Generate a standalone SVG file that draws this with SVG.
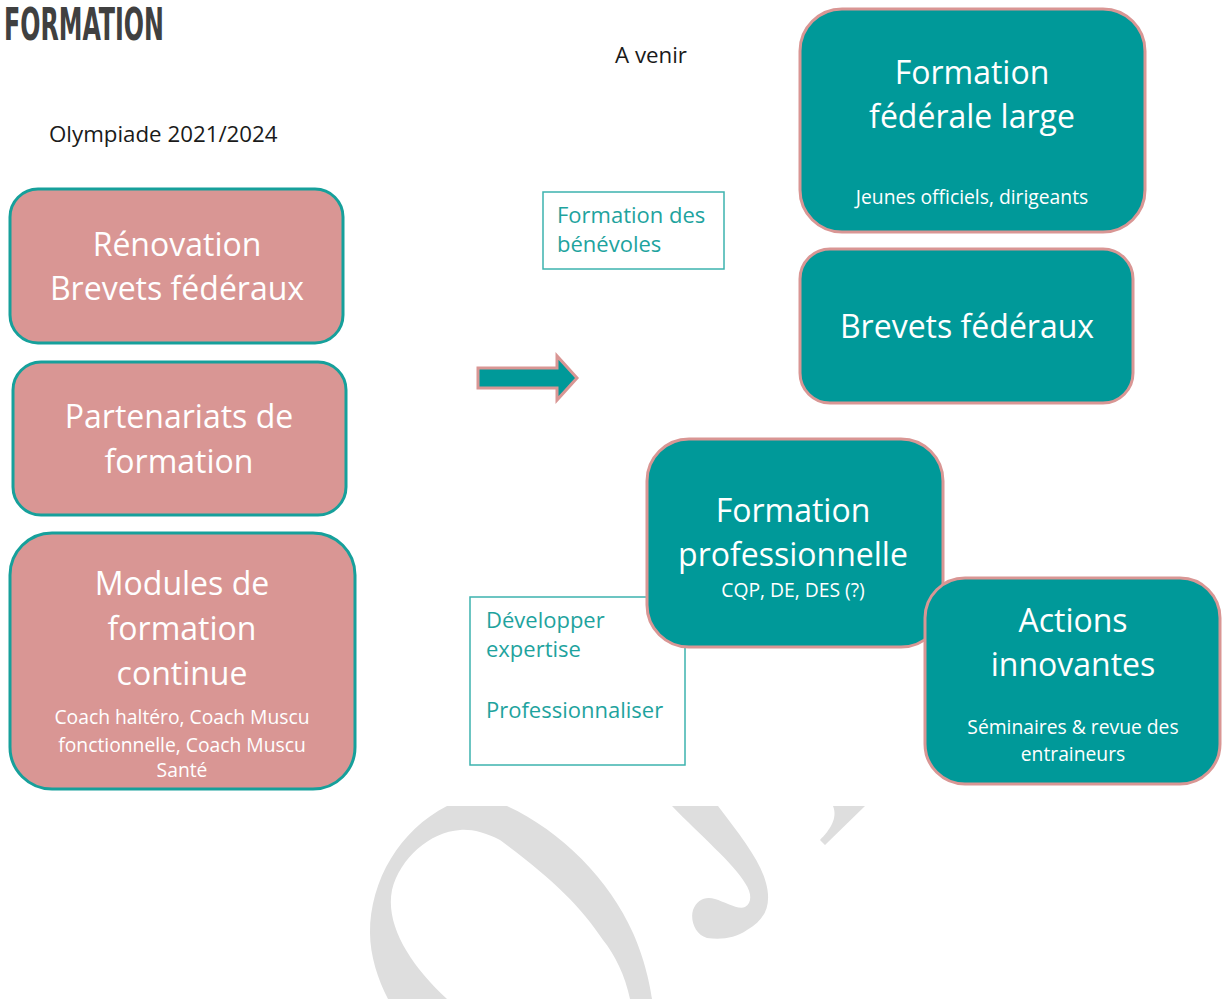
<svg xmlns="http://www.w3.org/2000/svg" width="1222" height="999" viewBox="0 0 1222 999">
<style>
.pinkbox{fill:#D99694;stroke:#16A09B;stroke-width:3}
.tealbox{fill:#009999;stroke:#D99694;stroke-width:3}
.frame{fill:#FFFFFF;stroke:#3DB3AE;stroke-width:1.5}
.t{font-family:"Open Sans",Lato,"Liberation Sans",sans-serif;}
.w{fill:#FFFFFF;text-anchor:middle}
.big{font-size:32px}
.small{font-size:19.3px}
.tl{fill:#1EA39E;font-size:22px}
.dark{fill:#1A1A1A;font-size:22.3px}
.wm{fill:#DEDEDE}
</style>
<g id="watermark">
<path class="wm" d="M447,806 L507,806 C560,830 610,880 633,933 C645,960 650,985 652,999 L630,999 C625,975 615,955 603,940 C580,905 550,877 500,840 C485,832 470,829 460,830 C430,832 400,858 392,890 C385,925 410,965 447,999 L388,999 C378,980 370,955 370,933 C370,880 400,830 447,806 Z"/>
<path class="wm" d="M672,806 L718,806 C740,835 760,860 766,883 C772,905 765,920 747,930 C735,938 722,940 707,938 C695,935 690,920 693,910 C697,900 705,896 715,899 C725,902 738,910 745,907 C752,903 752,893 745,883 C735,865 700,835 672,806 Z"/>
<path class="wm" d="M833,806 L865,806 L825,845 L820,840 C830,830 838,818 833,806 Z"/>
</g>
<g id="title">
<text x="4" y="40" font-family="'DejaVu Sans Condensed','DejaVu Sans',sans-serif" font-weight="bold" font-size="44" fill="#404040" textLength="160" lengthAdjust="spacingAndGlyphs">FORMATION</text>
</g>
<g id="olympiade"><text class="t dark" x="49" y="142">Olympiade 2021/2024</text></g>
<g id="avenir"><text class="t dark" x="615" y="63" font-size="23px">A venir</text></g>
<g id="renovation">
<rect class="pinkbox" x="10" y="189" width="333" height="154" rx="28"/>
<text class="t w big" x="177" y="256">Rénovation</text>
<text class="t w big" x="177" y="300">Brevets fédéraux</text>
</g>
<g id="partenariats">
<rect class="pinkbox" x="13" y="362" width="333" height="153" rx="28"/>
<text class="t w big" x="179" y="428">Partenariats de</text>
<text class="t w big" x="179" y="473">formation</text>
</g>
<g id="modules">
<rect class="pinkbox" x="10" y="533" width="345" height="256" rx="42"/>
<text class="t w big" x="182" y="595">Modules de</text>
<text class="t w big" x="182" y="640">formation</text>
<text class="t w big" x="182" y="685">continue</text>
<text class="t w small" x="182" y="724">Coach haltéro, Coach Muscu</text>
<text class="t w small" x="182" y="752">fonctionnelle, Coach Muscu</text>
<text class="t w small" x="182" y="777">Santé</text>
</g>
<g id="benevoles">
<rect class="frame" x="543" y="192" width="181" height="77"/>
<text class="t tl" x="557" y="223">Formation des</text>
<text class="t tl" x="557" y="252">bénévoles</text>
</g>
<g id="connectors">
<polygon points="478,368 557,368 557,356 577,378 557,400 557,388 478,388" fill="#009999" stroke="#D99694" stroke-width="3" stroke-linejoin="miter"/>
</g>
<g id="federale">
<rect class="tealbox" x="800" y="9" width="345" height="223" rx="42"/>
<text class="t w big" x="972" y="84">Formation</text>
<text class="t w big" x="972" y="128">fédérale large</text>
<text class="t w small" x="972" y="204">Jeunes officiels, dirigeants</text>
</g>
<g id="brevets">
<rect class="tealbox" x="800" y="249" width="333" height="154" rx="30"/>
<text class="t w big" x="967" y="338">Brevets fédéraux</text>
</g>
<g id="developper">
<rect class="frame" x="470" y="597" width="215" height="168"/>
<text class="t tl" x="486" y="628">Développer</text>
<text class="t tl" x="486" y="657">expertise</text>
<text class="t tl" x="486" y="718">Professionnaliser</text>
</g>
<g id="professionnelle">
<rect class="tealbox" x="647" y="439" width="296" height="208" rx="42"/>
<text class="t w big" x="793" y="522">Formation</text>
<text class="t w big" x="793" y="566">professionnelle</text>
<text class="t w small" x="793" y="597" font-size="17px">CQP, DE, DES (?)</text>
</g>
<g id="actions">
<rect class="tealbox" x="925" y="578" width="295" height="206" rx="40"/>
<text class="t w big" x="1073" y="632">Actions</text>
<text class="t w big" x="1073" y="676">innovantes</text>
<text class="t w small" x="1073" y="734">Séminaires &amp; revue des</text>
<text class="t w small" x="1073" y="761">entraineurs</text>
</g>
</svg>
